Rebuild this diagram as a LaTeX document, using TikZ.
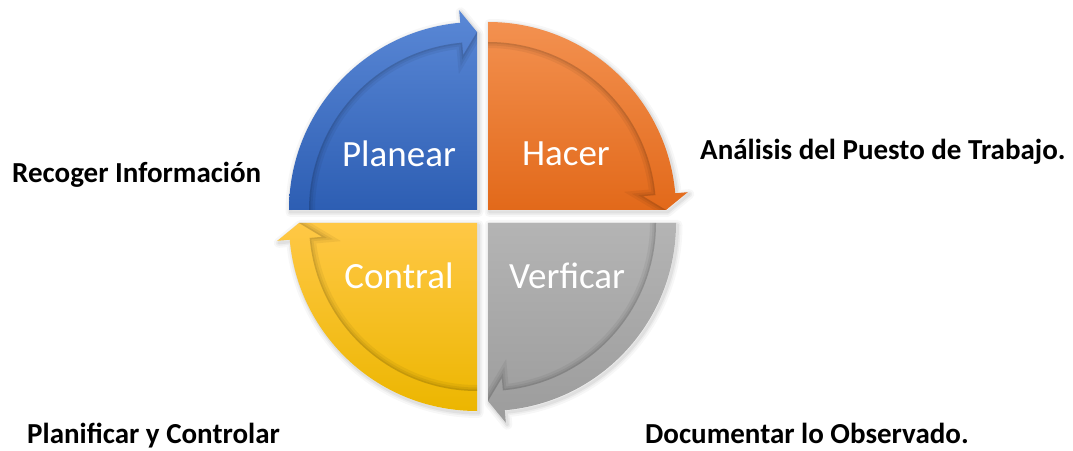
\documentclass[tikz,border=0pt]{standalone}
\usepackage{fontspec}
\setmainfont{Carlito}
\definecolor{bluetop}{HTML}{5A88D6}
\definecolor{bluebot}{HTML}{2D5EB3}
\definecolor{orangetop}{HTML}{F39150}
\definecolor{orangebot}{HTML}{E2691A}
\definecolor{graytop}{HTML}{B4B4B4}
\definecolor{graybot}{HTML}{9C9C9C}
\definecolor{yellowtop}{HTML}{FFC846}
\definecolor{yellowbot}{HTML}{ECB600}
\tikzset{
  qlabel/.style={text=white, font=\fontsize{37}{40}\selectfont, anchor=base, inner sep=0pt},
  sidelabel/.style={text=black, font=\bfseries\fontsize{29}{32}\selectfont, anchor=base west, inner sep=0pt},
}
\newcommand{\quadrant}[6]{%
\begin{scope}[shift={(#1pt,#2pt)}]
\pgfmathsetmacro{\qb}{#4+5.1}
\begin{scope}[shift={(1.5pt,-2pt)}]
 \foreach \w/\o in {10/0.03,6/0.04,3/0.05}{
  \draw[black, opacity=\o, line width=\w pt, line join=round] (0,0) -- (#3:188pt) arc[start angle=#3, end angle=\qb, radius=188pt] -- (\qb:200.5pt) -- (#4:178pt) -- cycle;}
\end{scope}
\shade[top color=#5, bottom color=#6] (0,0) -- (#3:188pt) arc[start angle=#3, end angle=\qb, radius=188pt] -- (\qb:200.5pt) -- (#4:178pt) -- cycle;
\begin{scope}
 \clip (0,0) -- (#3:168pt) arc[start angle=#3, end angle=\qb, radius=168pt] -- (\qb:155.5pt) -- (#4:178pt) -- cycle;
 \foreach \w/\o in {12/0.05,7/0.06,3/0.08}{
  \draw[black, opacity=\o, line width=\w pt] (#3:168pt) arc[start angle=#3, end angle=\qb, radius=168pt] -- (\qb:155.5pt) -- (#4:178pt);}
\end{scope}
\end{scope}}
\begin{document}
\begin{tikzpicture}
\useasboundingbox (0,0) rectangle (1073pt,450pt);
\fill[white] (0,0) rectangle (1073pt,450pt);
\quadrant{477}{240}{180}{90}{bluetop}{bluebot}
\quadrant{488}{240}{90}{0}{orangetop}{orangebot}
\quadrant{488}{227}{0}{-90}{graytop}{graybot}
\quadrant{477}{227}{-90}{-180}{yellowtop}{yellowbot}
\node[qlabel] (planear) at (399pt,283pt) {Planear};
\node[qlabel] (hacer) at (566pt,284pt) {Hacer};
\node[qlabel] (contral) at (399pt,161pt) {Contral};
\node[qlabel] (verficar) at (567pt,161pt) {Verficar};
\node[sidelabel] (recoger) at (12pt,267pt) {Recoger Información};
\node[sidelabel] (analisis) at (700pt,290pt) {Análisis del Puesto de Trabajo.};
\node[sidelabel] (planificar) at (27pt,7pt) {Planificar y Controlar};
\node[sidelabel] (documentar) at (645pt,7pt) {Documentar lo Observado.};
\end{tikzpicture}
\end{document}
